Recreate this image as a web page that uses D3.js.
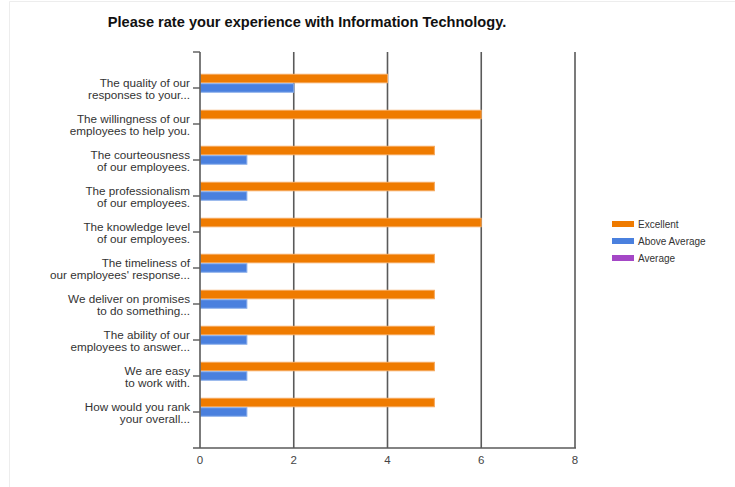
<!DOCTYPE html>
<html>
<head>
<meta charset="utf-8">
<script src="https://cdn.jsdelivr.net/npm/d3@7"></script>
<style>
  html, body { margin: 0; padding: 0; background: #fff; }
  svg { display: block; font-family: "Liberation Sans", Arial, sans-serif; }
</style>
</head>
<body>
<svg id="chart" width="735" height="487"></svg>
<script>
// Survey question and answer options
const title = "Please rate your experience with Information Technology.";
const categories = [
  ["The quality of our", "responses to your..."],
  ["The willingness of our", "employees to help you."],
  ["The courteousness", "of our employees."],
  ["The professionalism", "of our employees."],
  ["The knowledge level", "of our employees."],
  ["The timeliness of", "our employees' response..."],
  ["We deliver on promises", "to do something..."],
  ["The ability of our", "employees to answer..."],
  ["We are easy", "to work with."],
  ["How would you rank", "your overall..."]
];
const seriesNames = ["Excellent", "Above Average", "Average"];
const excellent    = [4, 6, 5, 5, 6, 5, 5, 5, 5, 5];
const aboveAverage = [2, 0, 1, 1, 0, 1, 1, 1, 1, 1];
const average      = [0, 0, 0, 0, 0, 0, 0, 0, 0, 0];
const seriesColors = ["#ef7b00", "#4a80de", "#a447c6"];
const seriesStroke = ["#f5a75a", "#8aaeea", "#c98ddc"];
const xTicks = [0, 2, 4, 6, 8];

const series = [excellent, aboveAverage, average];

const svg = d3.select("#chart");

// faint frame around the chart
svg.append("path")
  .attr("d", "M9.5,487 V1.5 H735")
  .attr("fill", "none")
  .attr("stroke", "#ededed");

const plot = { left: 200, right: 575, top: 52, bottom: 448 };

const x = d3.scaleLinear().domain([0, 8]).range([plot.left, plot.right]);
const y = d3.scalePoint()
  .domain(d3.range(categories.length))
  .range([plot.top, plot.bottom])
  .padding(1);
const groupH = y.step() * 0.79;
const sub = d3.scaleBand()
  .domain(d3.range(seriesNames.length))
  .range([-groupH / 2, groupH / 2]);

// title
svg.append("text")
  .attr("x", 307)
  .attr("y", 27)
  .attr("text-anchor", "middle")
  .attr("font-size", 14.6)
  .attr("font-weight", "bold")
  .attr("fill", "#111")
  .text(title);

// vertical grid lines
svg.append("g")
  .selectAll("line")
  .data(xTicks.filter(t => t > 0))
  .join("line")
  .attr("x1", d => x(d)).attr("x2", d => x(d))
  .attr("y1", plot.top).attr("y2", plot.bottom)
  .attr("stroke", "#5a5a5a")
  .attr("stroke-width", 1.6);

// bars
const groups = svg.append("g")
  .selectAll("g")
  .data(categories.map((c, i) => i))
  .join("g")
  .attr("transform", i => `translate(0,${y(i)})`);

groups.selectAll("rect")
  .data(i => series.map((s, k) => ({ k, v: s[i] })).filter(d => d.v > 0))
  .join("rect")
  .attr("x", x(0) + 0.5)
  .attr("y", d => sub(d.k) + 0.5)
  .attr("width", d => x(d.v) - x(0) - 0.5)
  .attr("height", sub.bandwidth() - 1)
  .attr("fill", d => seriesColors[d.k])
  .attr("stroke", d => seriesStroke[d.k])
  .attr("stroke-width", 1);

// left axis line with ticks
const axisColor = "#5a5a5a";
svg.append("line")
  .attr("x1", x(0)).attr("x2", x(0))
  .attr("y1", plot.top).attr("y2", plot.bottom)
  .attr("stroke", axisColor).attr("stroke-width", 1.6);

const leftTicks = [plot.top].concat(categories.map((c, i) => y(i)));
svg.append("g")
  .selectAll("line")
  .data(leftTicks)
  .join("line")
  .attr("x1", x(0) - 7).attr("x2", x(0))
  .attr("y1", d => d).attr("y2", d => d)
  .attr("stroke", axisColor).attr("stroke-width", 1.4);

// bottom axis
svg.append("line")
  .attr("x1", x(0) - 7).attr("x2", plot.right + 1)
  .attr("y1", plot.bottom).attr("y2", plot.bottom)
  .attr("stroke", axisColor).attr("stroke-width", 1.6);

svg.append("g")
  .selectAll("text")
  .data(xTicks)
  .join("text")
  .attr("x", d => x(d))
  .attr("y", plot.bottom + 16)
  .attr("text-anchor", "middle")
  .attr("font-size", 11.5)
  .attr("fill", "#444")
  .text(d => d);

// category labels
const labels = svg.append("g")
  .selectAll("text")
  .data(categories.map((c, i) => ({ c, i })))
  .join("text")
  .attr("text-anchor", "end")
  .attr("font-size", 11.7)
  .attr("fill", "#333");

labels.selectAll("tspan")
  .data(d => d.c.map((line, j) => ({ line, j, i: d.i })))
  .join("tspan")
  .attr("x", 190)
  .attr("y", d => y(d.i) + (d.j === 0 ? -1.5 : 10.5))
  .text(d => d.line);

// legend
const legend = svg.append("g")
  .selectAll("g")
  .data(seriesNames.map((n, k) => ({ n, k })))
  .join("g")
  .attr("transform", d => `translate(612,${224 + d.k * 17})`);

legend.append("rect")
  .attr("x", 0).attr("y", -3)
  .attr("width", 22).attr("height", 6)
  .attr("fill", d => seriesColors[d.k]);

legend.append("text")
  .attr("x", 26)
  .attr("y", 3.5)
  .attr("font-size", 10)
  .attr("fill", "#333")
  .text(d => d.n);
</script>
</body>
</html>
